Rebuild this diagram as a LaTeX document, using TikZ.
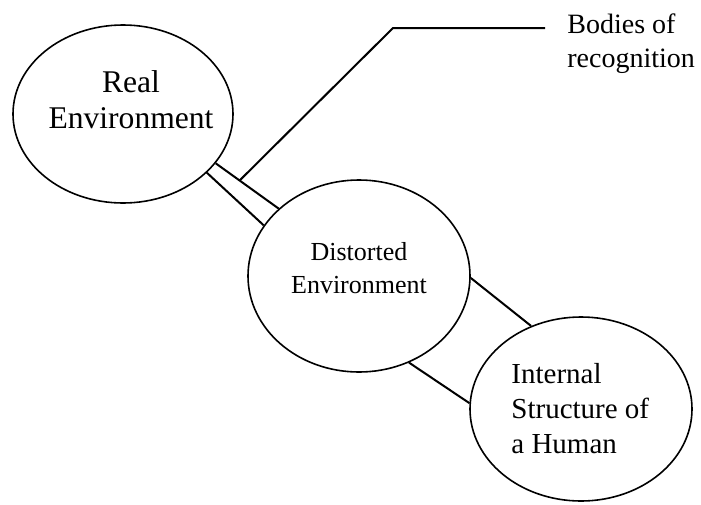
\documentclass[tikz,border=0pt]{standalone}
\usepackage{fontspec}
\setmainfont{Liberation Serif}
\usetikzlibrary{shapes.geometric}
\begin{document}
\begin{tikzpicture}[x=0.5pt,y=-0.5pt,
  blob/.style={draw,ellipse,line width=0.8pt,inner sep=0pt},
  link/.style={line width=1pt},
  txt/.style={inner sep=0pt,anchor=base},
  txtl/.style={inner sep=0pt,anchor=base west}]
\useasboundingbox (0,0) rectangle (701,504);
% ellipses
\node[blob,minimum width=110pt,minimum height=89pt] (e1) at (123,114) {};
\node[blob,minimum width=111pt,minimum height=96pt] (e2) at (359,276) {};
\node[blob,minimum width=111pt,minimum height=92pt] (e3) at (581,409) {};
% texts
\node[txt,font=\fontsize{15.8}{18}\selectfont] (t1a) at (131,92) {Real};
\node[txt,font=\fontsize{15.8}{18}\selectfont] (t1b) at (131,128) {Environment};
\node[txt,font=\fontsize{13}{16}\selectfont] (t2a) at (359,260) {Distorted};
\node[txt,font=\fontsize{13}{16}\selectfont] (t2b) at (359,293) {Environment};
\node[txtl,font=\fontsize{14.5}{17}\selectfont] (t3a) at (511,383) {Internal};
\node[txtl,font=\fontsize{14.5}{17}\selectfont] (t3b) at (511,418) {Structure of};
\node[txtl,font=\fontsize{14.5}{17}\selectfont] (t3c) at (511,453) {a Human};
\node[txtl,font=\fontsize{14}{16}\selectfont] (t4a) at (567,33) {Bodies of};
\node[txtl,font=\fontsize{14}{16}\selectfont] (t4b) at (567,67) {recognition};
% connectors
\draw[link] (e1.-35.7) -- (e2.152);
\draw[link] (e1.-28) -- coordinate[pos=0.38] (bp) (e2.140.5);
\coordinate (bend) at (393,28);
\coordinate (bendend) at (545,28);
\draw[link] (bp) -- (bend) -- (bendend);
\draw[link] (e2.-1) -- (e3.121);
\draw[link] (e2.-60.3) -- (e3.177);
\end{tikzpicture}
\end{document}
